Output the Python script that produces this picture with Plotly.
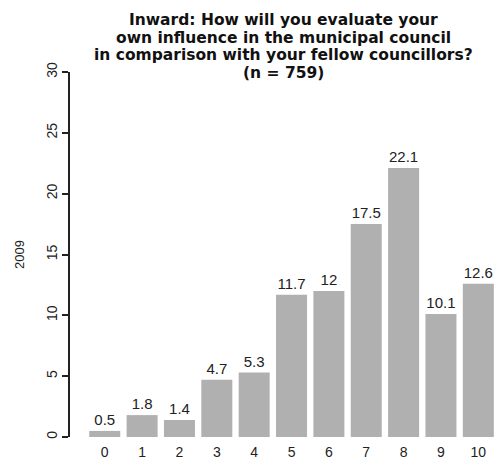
import plotly.graph_objects as go

categories = [0, 1, 2, 3, 4, 5, 6, 7, 8, 9, 10]
values = [0.5, 1.8, 1.4, 4.7, 5.3, 11.7, 12, 17.5, 22.1, 10.1, 12.6]
value_labels = ["0.5", "1.8", "1.4", "4.7", "5.3", "11.7", "12", "17.5", "22.1", "10.1", "12.6"]
y_ticks = [0, 5, 10, 15, 20, 25, 30]
title_lines = [
    "Inward: How will you evaluate your",
    "own influence in the municipal council",
    "in comparison with your fellow councillors?",
    "(n = 759)",
]
y_title = "2009"

W, H = 501, 466
x0, x1 = 70, 497
y_top, y_bot = 72, 437
plot_h = y_bot - y_top
title_centers = [20, 37.5, 55, 72.5]

fig = go.Figure()
fig.add_trace(go.Bar(
    x=categories, y=values, text=value_labels,
    textposition="outside", cliponaxis=False,
    textfont=dict(family="Liberation Sans, Arial, sans-serif", size=15, color="#222222"),
    marker=dict(color="#b0b0b0", line=dict(width=0)),
    width=0.83,
))

annotations = []
for line, cy in zip(title_lines, title_centers):
    annotations.append(dict(
        text="<b>" + line + "</b>",
        xref="paper", yref="paper", x=0.5, y=(y_bot - cy) / plot_h,
        xanchor="center", yanchor="middle", showarrow=False, borderpad=0,
        font=dict(family="DejaVu Sans, sans-serif", size=15.5, color="#111111"),
    ))

fig.update_layout(
    width=W, height=H,
    margin=dict(l=x0, r=W - x1, t=y_top, b=H - y_bot, pad=0),
    paper_bgcolor="white", plot_bgcolor="white",
    showlegend=False,
    font=dict(family="Liberation Sans, Arial, sans-serif", color="#222222"),
    xaxis=dict(
        range=[-0.93, 10.5], tickmode="array", tickvals=categories,
        ticktext=[str(c) for c in categories],
        showline=False, showgrid=False, zeroline=False, ticks="",
        tickfont=dict(size=14, color="#222222"), ticklabelstandoff=5,
    ),
    yaxis=dict(
        range=[0, 30], tickmode="array", tickvals=y_ticks,
        showline=True, linecolor="#222222", linewidth=1.5,
        ticks="outside", ticklen=6, tickcolor="#222222", tickwidth=1.5,
        showgrid=False, zeroline=False,
        tickangle=-90, tickfont=dict(size=14, color="#222222"),
        title=dict(text=y_title, font=dict(size=13, color="#222222"), standoff=16),
    ),
    annotations=annotations,
)

fig.write_html(
    "out.html",
    config={"displayModeBar": False},
    post_script="document.body.style.margin='0';document.body.style.overflow='hidden';",
)
